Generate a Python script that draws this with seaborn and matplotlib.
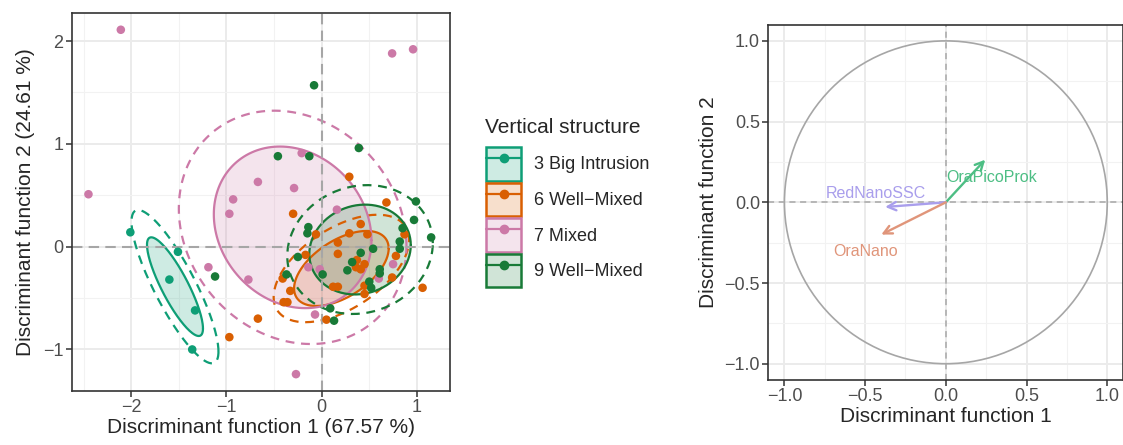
import numpy as np
import pandas as pd
import seaborn as sns
import matplotlib
matplotlib.use("Agg")
import matplotlib.pyplot as plt
from matplotlib.patches import Patch, Circle
from matplotlib.lines import Line2D
from matplotlib.legend_handler import HandlerTuple
from matplotlib.ticker import MultipleLocator, FuncFormatter

# ---- discriminant scores per vertical-structure group ----
groups = ["3 Big Intrusion", "6 Well\u2212Mixed", "7 Mixed", "9 Well\u2212Mixed"]
colors = ["#0E9E76", "#D95F02", "#CC79A7", "#187A37"]

big_intrusion_ld1 = [-2.01, -1.51, -1.60, -1.33, -1.36]
big_intrusion_ld2 = [0.14, -0.05, -0.32, -0.62, -1.00]

well_mixed6_ld1 = [0.29, 0.68, -0.30, 0.41, 0.29, 0.48, -0.06, 0.87, 0.17, 0.17,
                   -0.17, 0.78, 0.37, 0.45, 0.36, 0.41, 0.74, -0.41, 0.45, 0.12,
                   0.17, 0.45, -0.33, -0.40, -0.36, 0.05, 1.06, -0.67, -0.97]
well_mixed6_ld2 = [0.68, 0.43, 0.32, 0.22, 0.13, 0.12, 0.12, 0.12, 0.04, -0.07,
                   -0.08, -0.09, -0.13, -0.17, -0.20, -0.22, -0.30, -0.31, -0.38, -0.39,
                   -0.39, -0.46, -0.43, -0.54, -0.54, -0.71, -0.40, -0.70, -0.88]

mixed7_ld1 = [-2.11, -2.45, 0.74, 0.96, -0.21, -0.67, -0.29, -0.93, -0.97, 0.16,
              -1.19, -0.77, -0.14, -0.02, 0.75, 0.60, -0.07, -0.27]
mixed7_ld2 = [2.11, 0.51, 1.88, 1.92, 0.91, 0.63, 0.57, 0.46, 0.32, 0.36,
              -0.20, -0.32, -0.20, -0.22, -0.17, -0.31, -0.66, -1.24]

well_mixed9_ld1 = [-0.08, -0.46, -0.13, 0.39, 0.99, 0.97, 1.15, 0.85, 0.82, 0.82,
                   0.54, 0.41, 0.32, 0.27, 0.61, 0.61, 0.50, 0.52, 0.09, 0.13,
                   -0.14, -0.15, -0.25, -0.37, 0.01, -1.12]
well_mixed9_ld2 = [1.57, 0.88, 0.88, 0.96, 0.44, 0.26, 0.09, 0.18, 0.05, -0.02,
                   -0.02, -0.06, -0.15, -0.23, -0.22, -0.26, -0.34, -0.40, -0.60, -0.72,
                   0.19, 0.13, -0.10, -0.27, -0.27, -0.29]

# ---- robust (multivariate-t) group ellipses at the 50 % level ----
ell_center_ld1 = [-1.541, 0.207, -0.305, 0.403]
ell_center_ld2 = [-0.389, -0.212, 0.188, -0.028]
ell_half_ld1 = [0.294, 0.497, 0.828, 0.533]
ell_half_ld2 = [0.480, 0.365, 0.786, 0.437]
ell_corr = [-0.847, 0.533, -0.161, 0.10]
inner_level = 0.50
outer_level = 0.75

# ---- variable loadings (correlation circle) ----
variables = ["OraPicoProk", "RedNanoSSC", "OraNano"]
load_ld1 = [0.244, -0.376, -0.400]
load_ld2 = [0.264, -0.029, -0.200]
var_colors = ["#4DBE84", "#A99EEC", "#E0957A"]

xlab_left = "Discriminant function 1 (67.57 %)"
ylab_left = "Discriminant function 2 (24.61 %)"

frames = []
for g, xs, ys in zip(groups,
                     [big_intrusion_ld1, well_mixed6_ld1, mixed7_ld1, well_mixed9_ld1],
                     [big_intrusion_ld2, well_mixed6_ld2, mixed7_ld2, well_mixed9_ld2]):
    frames.append(pd.DataFrame({"LD1": xs, "LD2": ys, "structure": g}))
scores = pd.concat(frames, ignore_index=True)
palette = dict(zip(groups, colors))


def f_radius(level, dfd):
    """sqrt(2 * qf(level, 2, dfd)) in closed form."""
    q = (dfd / 2.0) * ((1 - level) ** (-2.0 / dfd) - 1)
    return np.sqrt(2 * q)


def ellipse_path(cx, cy, sx, sy, rho, scale, segments=160):
    shape = np.array([[sx * sx, rho * sx * sy], [rho * sx * sy, sy * sy]])
    L = np.linalg.cholesky(shape)
    ang = np.linspace(0, 2 * np.pi, segments + 1)
    circ = np.column_stack([np.cos(ang), np.sin(ang)])
    return np.array([cx, cy]) + scale * circ @ L.T


sns.set_theme(style="white")
plt.rcParams["font.family"] = ["Liberation Sans", "DejaVu Sans"]
plt.rcParams["axes.unicode_minus"] = True

fig = plt.figure(figsize=(11.23, 4.45), dpi=100)
ax1 = fig.add_axes([71.7 / 1123, 1 - 391 / 445, 378.3 / 1123, 378.3 / 445])
ax2 = fig.add_axes([768.3 / 1123, 1 - 380 / 445, 355.1 / 1123, 355.4 / 445])

grid_major = "#EBEBEB"
grid_minor = "#F2F2F2"


def style_axes(ax):
    ax.set_axisbelow(True)
    ax.grid(which="major", color=grid_major, lw=1.4)
    ax.grid(which="minor", color=grid_minor, lw=0.8)
    for sp in ax.spines.values():
        sp.set_color("#333333")
        sp.set_linewidth(1.2)
    ax.tick_params(which="major", length=4, width=1.1, color="#333333",
                   labelsize=13, labelcolor="#4D4D4D", pad=2,
                   bottom=True, left=True)
    ax.tick_params(which="minor", length=0)


# ---- left panel: scores with group ellipses ----
for i, (g, c) in enumerate(zip(groups, colors)):
    n = int((scores.structure == g).sum())
    ratio = f_radius(outer_level, n - 1) / f_radius(inner_level, n - 1)
    args = (ell_center_ld1[i], ell_center_ld2[i], ell_half_ld1[i],
            ell_half_ld2[i], ell_corr[i])
    inner = ellipse_path(*args, 1.0)
    outer = ellipse_path(*args, ratio)
    ax1.fill(inner[:, 0], inner[:, 1], color=c, alpha=0.2, lw=0, zorder=1)
    ax1.plot(inner[:, 0], inner[:, 1], color=c, lw=1.6, zorder=2)
    ax1.plot(outer[:, 0], outer[:, 1], color=c, lw=1.6, ls=(0, (4, 3)), zorder=2)

ax1.axhline(0, color="#A6A6A6", lw=1.5, ls=(0, (5, 3)), zorder=2.5)
ax1.axvline(0, color="#A6A6A6", lw=1.5, ls=(0, (5, 3)), zorder=2.5)

sns.scatterplot(data=scores, x="LD1", y="LD2", hue="structure", palette=palette,
                s=38, edgecolor="none", linewidth=0, legend=False, ax=ax1, zorder=3)

ax1.set_xlim(-2.626, 1.348)
ax1.set_ylim(-1.404, 2.276)
ax1.set_xticks([-2, -1, 0, 1])
ax1.set_yticks([-1, 0, 1, 2])
ax1.xaxis.set_minor_locator(MultipleLocator(0.5))
ax1.yaxis.set_minor_locator(MultipleLocator(0.5))
style_axes(ax1)
ax1.set_xlabel(xlab_left, fontsize=15, labelpad=1)
ax1.set_ylabel(ylab_left, fontsize=15, labelpad=6)

# legend: title plus keys that combine the filled ellipse with a point
fig.text(485 / 1123, 1 - 133 / 445, "Vertical structure", fontsize=15,
         ha="left", va="baseline")
handles = []
for c in colors:
    patch = Patch(facecolor=matplotlib.colors.to_rgba(c, 0.2), edgecolor=c, lw=1.8)
    line = Line2D([], [], color=c, lw=1.6, marker="o", ms=6)
    handles.append((patch, line))
fig.legend(handles, groups, handler_map={tuple: HandlerTuple(ndivide=1)},
           loc="upper left", bbox_to_anchor=(486 / 1123, 1 - 147 / 445),
           frameon=False, fontsize=13, handlelength=1.95, handleheight=2.5,
           handletextpad=0.7, labelspacing=0.1, borderpad=0, borderaxespad=0)

# ---- right panel: correlation circle ----
ax2.add_patch(Circle((0, 0), 1.0, fill=False, ec="#A6A6A6", lw=1.2, zorder=1))
ax2.axhline(0, color="#A8A8A8", lw=1.1, ls=(0, (4, 3)), zorder=1.5)
ax2.axvline(0, color="#A8A8A8", lw=1.1, ls=(0, (4, 3)), zorder=1.5)

label_offsets = {"OraPicoProk": (0.042, -0.138),
                 "RedNanoSSC": (-0.056, 0.058),
                 "OraNano": (-0.099, -0.135)}
for name, vx, vy, c in zip(variables, load_ld1, load_ld2, var_colors):
    ax2.annotate("", xy=(vx, vy), xytext=(0, 0),
                 arrowprops=dict(arrowstyle="->", color=c, lw=1.7,
                                 mutation_scale=15, shrinkA=0, shrinkB=0),
                 zorder=3)
    dx, dy = label_offsets[name]
    ax2.text(vx + dx, vy + dy, name, color=c, fontsize=11.5,
             ha="center", va="baseline", zorder=4)

ax2.set_xlim(-1.1, 1.1)
ax2.set_ylim(-1.1, 1.1)
ax2.set_aspect("equal", adjustable="box")
ticks = [-1.0, -0.5, 0.0, 0.5, 1.0]
ax2.set_xticks(ticks)
ax2.set_yticks(ticks)
ax2.xaxis.set_minor_locator(MultipleLocator(0.25))
ax2.yaxis.set_minor_locator(MultipleLocator(0.25))
fmt = FuncFormatter(lambda v, p: ("%.1f" % (0.0 if abs(v) < 1e-9 else v)).replace("-", "\u2212"))
ax2.xaxis.set_major_formatter(fmt)
ax2.yaxis.set_major_formatter(fmt)
style_axes(ax2)
ax2.set_xlabel("Discriminant function 1", fontsize=15, labelpad=1)
ax2.set_ylabel("Discriminant function 2", fontsize=15, labelpad=5)

fig.savefig("out.png", dpi=100)
